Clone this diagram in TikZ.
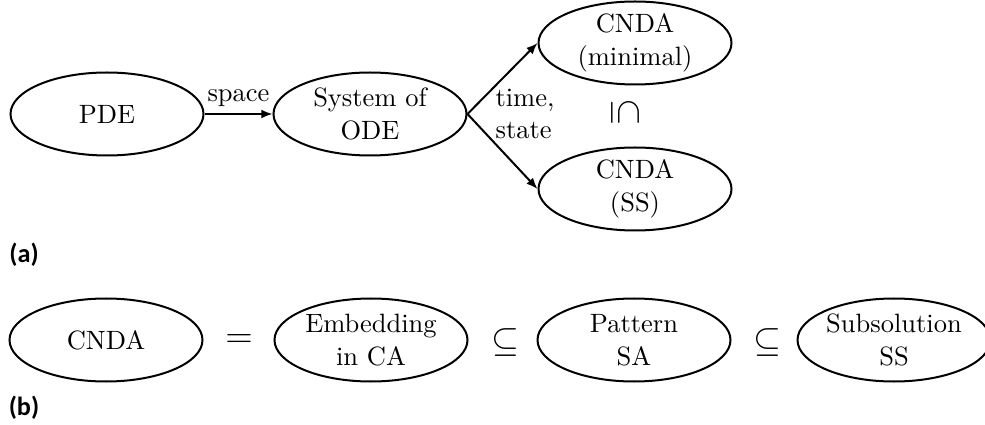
\documentclass[tikz,border=0pt]{standalone}
\usepackage{fontspec}
\newfontfamily\panelfont{Carlito}
\usetikzlibrary{shapes.geometric,arrows.meta}

\tikzset{
  txt/.style={font=\fontsize{10.6}{13}\selectfont},
  state/.style={draw, ellipse, line width=0.8pt, inner sep=0pt, txt,
    minimum width=77.2pt, minimum height=33.2pt, align=center},
  link/.style={line width=0.8pt, -{Latex[length=4.5pt,width=3.6pt]}},
  rel/.style={inner sep=0pt, font=\fontsize{15.5}{16}\selectfont},
  panel/.style={inner sep=0pt, font=\panelfont\bfseries\fontsize{10.5}{12}\selectfont}
}

\begin{document}
\begin{tikzpicture}[x=0.4pt, y=-0.4pt]
  \useasboundingbox (0,0) rectangle (985,425);

  % (a) discretisation chain
  \node[state] (pde) at (107,114) {PDE};
  \node[state] (ode) at (370,114) {System of\\ODE};
  \node[state] (min) at (635,43)  {CNDA\\(minimal)};
  \node[state] (ss)  at (635,189) {CNDA\\(SS)};

  \draw[link] (pde.east) -- node[above, inner sep=2.5pt, txt] {space} (ode.west);
  \draw[link] (ode.east) -- (min.west);
  \draw[link] (ode.east) -- (ss.west);
  \node[align=left, inner sep=0pt, txt] (ts) at (525,114) {time,\\state};
  \node[rel, rotate=-90] (incl) at (625,113) {$\subseteq$};

  \node[panel] (la) at (24,255) {(a)};

  % (b) chain of inclusions
  \node[state] (cnda)  at (106,340) {CNDA};
  \node[state] (emb)   at (371,340) {Embedding\\in CA};
  \node[state] (pat)   at (634,340) {Pattern\\SA};
  \node[state] (sub)   at (894,340) {Subsolution\\SS};
  \node[rel] (eq)  at (239,341) {$=$};
  \node[rel] (s1)  at (505,342) {$\subseteq$};
  \node[rel] (s2)  at (767,342) {$\subseteq$};

  \node[panel] (lb) at (24,408) {(b)};
\end{tikzpicture}
\end{document}
